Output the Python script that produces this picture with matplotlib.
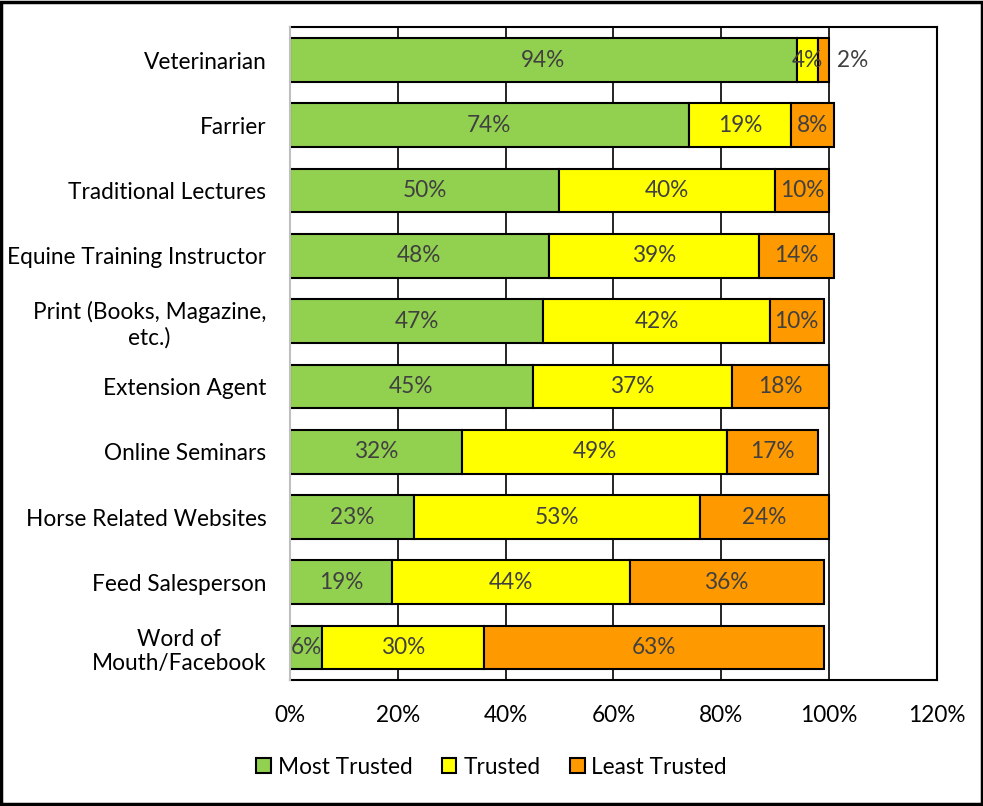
import numpy as np
import matplotlib.pyplot as plt
from matplotlib.patches import Rectangle

plt.rcParams['font.family'] = ['Lato', 'DejaVu Sans']

categories = ['Veterinarian', 'Farrier', 'Traditional Lectures',
              'Equine Training Instructor', 'Print (Books, Magazine,\netc.)',
              'Extension Agent', 'Online Seminars', 'Horse Related Websites',
              'Feed Salesperson', 'Word of\nMouth/Facebook']
most_trusted = [94, 74, 50, 48, 47, 45, 32, 23, 19, 6]
trusted = [4, 19, 40, 39, 42, 37, 49, 53, 44, 30]
least_trusted = [2, 8, 10, 14, 10, 18, 17, 24, 36, 63]
series_names = ['Most Trusted', 'Trusted', 'Least Trusted']
colors = ['#92D050', '#FFFF00', '#FF9900']
xticks = [0, 20, 40, 60, 80, 100, 120]

fs = 16.3
fig = plt.figure(figsize=(9.83, 8.06), dpi=100)
ax = fig.add_axes([0.295, 0.156, 0.658, 0.81])

y = np.arange(len(categories))
left = np.zeros(len(categories))
label_color = '#404040'
for name, vals, col in zip(series_names, [most_trusted, trusted, least_trusted], colors):
    vals = np.array(vals, dtype=float)
    ax.barh(y, vals, left=left, height=0.67, color=col, edgecolor='black',
            linewidth=1.5, label=name, zorder=3)
    for i, v in enumerate(vals):
        if name == 'Least Trusted' and i == 0:
            ax.text(left[i] + v + 1.5, y[i], f'{int(v)}%', va='center', ha='left',
                    fontsize=fs, color=label_color, zorder=4)
        else:
            ax.text(left[i] + v / 2, y[i], f'{int(v)}%', va='center', ha='center',
                    fontsize=fs, color=label_color, zorder=4)
    left += vals

ax.set_xlim(0, 120)
ax.set_ylim(len(categories) - 0.5, -0.5)
ax.set_xticks(xticks)
ax.set_xticklabels([f'{t}%' for t in xticks], fontsize=fs)
ax.set_yticks(y)
ax.set_yticklabels(categories, fontsize=fs, ha='right', multialignment='center')
ax.tick_params(axis='y', length=0, pad=17)
ax.tick_params(axis='x', length=0, pad=18)
ax.grid(axis='x', color='black', linewidth=1.2, zorder=0)
for s in ['top', 'right', 'bottom']:
    ax.spines[s].set_color('black')
    ax.spines[s].set_linewidth(1.5)
ax.spines['left'].set_color('#BFBFBF')
ax.spines['left'].set_linewidth(1.5)
ax.spines['left'].set_zorder(5)

fig.legend(loc='center', bbox_to_anchor=(0.5, 0.048), ncol=3, frameon=False,
           fontsize=fs, handlelength=0.65, handleheight=0.65, handletextpad=0.3,
           columnspacing=1.3)

fig.add_artist(Rectangle((0.0015, 0.002), 0.997, 0.996, transform=fig.transFigure,
                         fill=False, edgecolor='black', linewidth=2.5))

plt.savefig('out.png')
